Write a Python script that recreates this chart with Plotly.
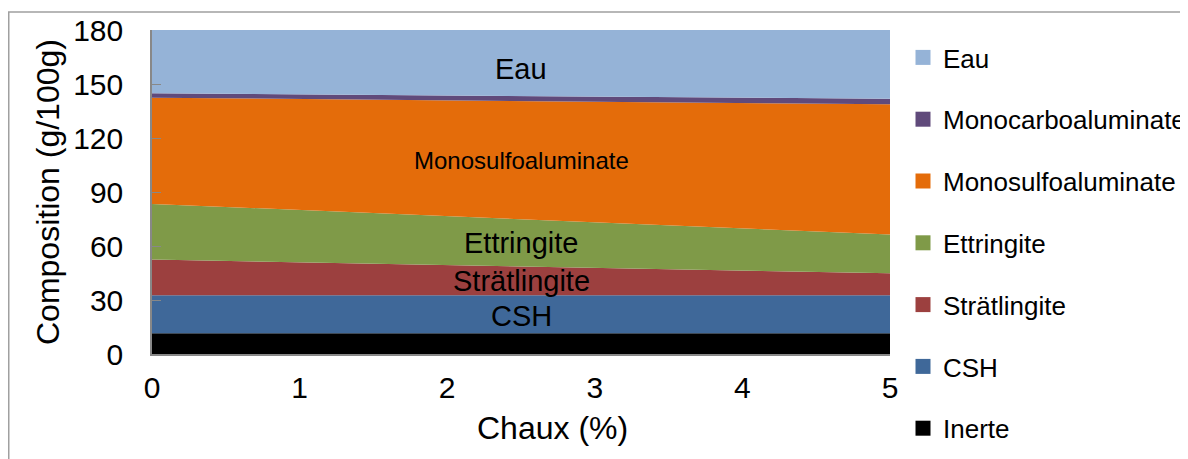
import plotly.graph_objects as go

chaux = [0, 1, 2, 3, 4, 5]
inerte = [11.5, 11.5, 11.5, 11.5, 11.5, 11.5]
csh = [21.1, 21.1, 21.1, 21.1, 21.1, 21.1]
stratlingite = [19.9, 18.4, 16.9, 15.4, 13.9, 12.2]
ettringite = [30.9, 29.0, 27.1, 25.2, 23.3, 21.6]
monosulfo = [59.0, 61.7, 64.4, 67.0, 69.7, 72.3]
monocarbo = [2.4, 2.5, 2.6, 2.8, 2.9, 3.1]
eau = [35.2, 35.8, 36.4, 37.0, 37.6, 38.2]

series_names = ["Inerte", "CSH", "Strätlingite", "Ettringite",
                "Monosulfoaluminate", "Monocarboaluminate", "Eau"]
series_values = [inerte, csh, stratlingite, ettringite, monosulfo, monocarbo, eau]
colors = ["#000000", "#3F6899", "#9C403F", "#7F9A48", "#E46C0A", "#604A7B", "#95B3D7"]

y_ticks = [0, 30, 60, 90, 120, 150, 180]
x_ticks = [0, 1, 2, 3, 4, 5]

# inner labels: (text, x, y, size)
inner_labels = [("Eau", 2.5, 158.5, 29), ("Monosulfoaluminate", 2.5, 107.5, 24),
                ("Ettringite", 2.5, 61.5, 29), ("Strätlingite", 2.5, 40.5, 29),
                ("CSH", 2.5, 21, 29)]

W, H = 1180, 451  # page body has an 8px margin
FONT = "Liberation Sans, Arial, sans-serif"


def px(x):
    return x / W


def py(y):
    return (H - y) / H


fig = go.Figure()
for name, vals, col in zip(series_names, series_values, colors):
    fig.add_trace(go.Scatter(
        x=chaux, y=vals, name=name, mode="lines", stackgroup="one",
        line=dict(width=0, color=col), fillcolor=col, showlegend=False,
        hoverinfo="x+y+name"))
# legend entries, top to bottom: Eau ... Inerte
for name, col in zip(series_names[::-1], colors[::-1]):
    fig.add_trace(go.Scatter(
        x=[None], y=[None], name=name, mode="markers", legendgroup=name,
        marker=dict(symbol="square", size=15, color=col), showlegend=True))

for text, x, y, s in inner_labels:
    fig.add_annotation(x=x, y=y, text=text, showarrow=False,
                       xanchor="center", yanchor="middle",
                       font=dict(size=s, color="#000000", family=FONT))

fig.add_annotation(xref="paper", yref="paper", x=px(40), y=py(184),
                   xanchor="center", yanchor="middle",
                   text="Composition (g/100g)", textangle=-90, showarrow=False,
                   font=dict(size=32, color="#000", family=FONT))
fig.add_annotation(xref="paper", yref="paper", x=px(544), y=py(420),
                   xanchor="center", yanchor="middle",
                   text="Chaux (%)", showarrow=False,
                   font=dict(size=32, color="#000", family=FONT))

fig.add_shape(type="rect", xref="paper", yref="paper",
              x0=px(0.75), x1=px(W + 10), y0=py(H + 10), y1=py(4),
              line=dict(color="#A0A0A0", width=1.5), fillcolor="rgba(0,0,0,0)", layer="below")

fig.update_layout(
    width=W, height=H,
    margin=dict(l=0, r=0, t=0, b=0, autoexpand=False),
    paper_bgcolor="white", plot_bgcolor="white",
    font=dict(family=FONT, color="#000"),
    xaxis=dict(domain=[px(144), px(882)], range=[0, 5], tickvals=x_ticks,
               showgrid=False, zeroline=False,
               showline=True, linecolor="#888888", linewidth=1.5, ticks="",
               tickfont=dict(size=30), ticklabelstandoff=6),
    yaxis=dict(domain=[py(346), py(22)], range=[0, 180], tickvals=y_ticks,
               showgrid=False, zeroline=False,
               showline=True, linecolor="#888888", linewidth=1.5, ticks="inside",
               ticklen=9, tickcolor="#888888", tickfont=dict(size=30),
               ticklabelstandoff=21),
    legend=dict(x=px(895), xanchor="left", y=py(26), yanchor="top",
                traceorder="grouped", tracegroupgap=25,
                font=dict(size=26, family=FONT), itemwidth=30,
                bgcolor="rgba(0,0,0,0)"),
    showlegend=True,
)
fig.write_html("out.html")
